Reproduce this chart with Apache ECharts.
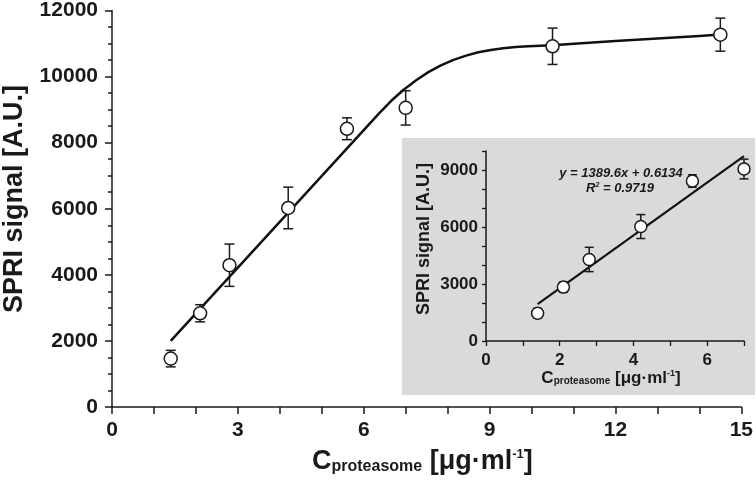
<!DOCTYPE html>
<html><head><meta charset="utf-8">
<script src="https://cdn.jsdelivr.net/npm/echarts@6/dist/echarts.min.js"></script>
<style>html,body{margin:0;padding:0;background:#fff}#c{width:756px;height:482px}</style>
</head><body><div id="c"></div>
<script>
// ---- data ----
const concentration = [1.4, 2.1, 2.8, 4.2, 5.6, 7.0, 10.5, 14.5];
const signal = [1465, 2836, 4291, 6024, 8421, 9053, 10917, 11269];
const signalError = [250, 260, 640, 630, 330, 520, 550, 500];

const fitX = [1.4, 3, 4.5, 6.0, 6.36, 6.65, 6.95, 7.25, 7.54, 7.84, 8.14, 8.44, 8.73, 9.03, 9.32, 9.62, 9.92, 10.5, 11.1, 12, 13, 14, 14.5];
const fitY = [2000, 4220, 6300, 8380, 8880, 9260, 9600, 9890, 10135, 10340, 10506, 10635, 10737, 10805, 10857, 10893, 10917, 10950, 11000, 11075, 11150, 11230, 11270];

const insetConcentration = [1.4, 2.1, 2.8, 4.2, 5.6, 7.0];
const insetSignal = [1465, 2836, 4291, 6024, 8421, 9053];
const insetError = [250, 260, 640, 630, 330, 520];
const linearFitX = [1.4, 7.0];
const linearFitY = [1946, 9728];

const mainXTicks = [0, 3, 6, 9, 12, 15];
const mainYTicks = [0, 2000, 4000, 6000, 8000, 10000, 12000];
const insetXTicks = [0, 2, 4, 6];
const insetYTicks = [0, 3000, 6000, 9000];

const equationText = 'y = 1389.6x + 0.6134';
const r2Value = '0.9719';
// ---------------------------------------

const FONT = '"Liberation Sans", Arial, sans-serif';
const INK = '#1a1a1a';

function errRender(capHalf) {
  return function (params, api) {
    const x = api.value(0), lo = api.value(1), hi = api.value(2);
    const a = api.coord([x, lo]), b = api.coord([x, hi]);
    const st = { stroke: INK, lineWidth: 1.5 };
    return { type: 'group', children: [
      { type: 'line', shape: { x1: a[0], y1: a[1], x2: b[0], y2: b[1] }, style: st },
      { type: 'line', shape: { x1: a[0] - capHalf, y1: a[1], x2: a[0] + capHalf, y2: a[1] }, style: st },
      { type: 'line', shape: { x1: b[0] - capHalf, y1: b[1], x2: b[0] + capHalf, y2: b[1] }, style: st }
    ]};
  };
}

function axisCommon(opts) {
  return Object.assign({
    type: 'value',
    splitLine: { show: false },
    minorSplitLine: { show: false },
    axisLine: { show: true, onZero: false, lineStyle: { color: INK, width: 1.5 } },
  }, opts);
}

const mainErr = concentration.map((x, i) => [x, signal[i] - signalError[i], signal[i] + signalError[i]]);
const insetErr = insetConcentration.map((x, i) => [x, insetSignal[i] - insetError[i], insetSignal[i] + insetError[i]]);

const chart = echarts.init(document.getElementById('c'), null, { renderer: 'canvas' });
chart.setOption({
  animation: false,
  backgroundColor: '#fff',
  grid: [
    { left: 112, top: 8, width: 632, height: 399 },
    { left: 486, top: 151, width: 258, height: 190, z: 5 }
  ],
  xAxis: [
    axisCommon({
      gridIndex: 0, min: mainXTicks[0], max: mainXTicks[mainXTicks.length - 1], interval: mainXTicks[1] - mainXTicks[0],
      axisTick: { show: true, length: 7, lineStyle: { color: INK, width: 1.5 } },
      minorTick: { show: true, splitNumber: 3, length: 7, lineStyle: { color: INK, width: 1.5 } },
      axisLabel: { fontSize: 21, fontWeight: 'bold', color: INK, margin: 13, fontFamily: FONT, formatter: v => String(v) }
    }),
    axisCommon({
      gridIndex: 1, z: 6, min: 0, max: 7, interval: 1,
      axisTick: { show: true, length: 5, lineStyle: { color: INK, width: 1.3 } },
      minorTick: { show: false },
      axisLabel: { fontSize: 17, fontWeight: 'bold', color: INK, margin: 11, fontFamily: FONT,
        formatter: v => insetXTicks.indexOf(v) >= 0 ? String(v) : '' }
    })
  ],
  yAxis: [
    axisCommon({
      gridIndex: 0, min: mainYTicks[0], max: mainYTicks[mainYTicks.length - 1], interval: mainYTicks[1] - mainYTicks[0],
      axisTick: { show: true, length: 7, lineStyle: { color: INK, width: 1.5 } },
      minorTick: { show: true, splitNumber: 4, length: 4, lineStyle: { color: INK, width: 1.5 } },
      axisLabel: { fontSize: 21, fontWeight: 'bold', color: INK, margin: 14, fontFamily: FONT, formatter: v => String(v) }
    }),
    axisCommon({
      gridIndex: 1, z: 6, min: 0, max: 10000, interval: 1000,
      axisTick: { show: true, length: 4, lineStyle: { color: INK, width: 1.3 } },
      minorTick: { show: false },
      axisLabel: { fontSize: 17, fontWeight: 'bold', color: INK, margin: 8, fontFamily: FONT,
        formatter: v => insetYTicks.indexOf(v) >= 0 ? String(v) : '' }
    })
  ],
  series: [
    { type: 'line', xAxisIndex: 0, yAxisIndex: 0, data: fitX.map((x, i) => [x, fitY[i]]),
      showSymbol: false, smooth: false, lineStyle: { color: '#111', width: 2.5, join: 'round' }, z: 2 },
    { type: 'custom', xAxisIndex: 0, yAxisIndex: 0, data: mainErr, renderItem: errRender(5), z: 3 },
    { type: 'scatter', xAxisIndex: 0, yAxisIndex: 0, data: concentration.map((x, i) => [x, signal[i]]),
      symbol: 'circle', symbolSize: 13, itemStyle: { color: '#fff', borderColor: INK, borderWidth: 1.5, opacity: 1 }, z: 4 },

    { type: 'line', xAxisIndex: 1, yAxisIndex: 1, data: linearFitX.map((x, i) => [x, linearFitY[i]]),
      showSymbol: false, lineStyle: { color: '#111', width: 2.2 }, z: 7 },
    { type: 'custom', xAxisIndex: 1, yAxisIndex: 1, data: insetErr, renderItem: errRender(4.5), z: 8 },
    { type: 'scatter', xAxisIndex: 1, yAxisIndex: 1, data: insetConcentration.map((x, i) => [x, insetSignal[i]]),
      symbol: 'circle', symbolSize: 12, itemStyle: { color: '#fff', borderColor: INK, borderWidth: 1.5, opacity: 1 }, z: 9 }
  ],
  graphic: [
    { type: 'rect', z: 1, shape: { x: 402, y: 138, width: 353, height: 257 }, style: { fill: '#dadada' } },
    // main y label
    { type: 'text', z: 10, x: 15, y: 199, rotation: Math.PI / 2,
      style: { text: 'SPRI signal [A.U.]', font: 'bold 27px ' + FONT, fill: INK, textAlign: 'center', textVerticalAlign: 'middle' } },
    // main x label
    { type: 'text', z: 10, x: 312, y: 448,
      style: { text: '{c|C}{s|proteasome}{c| [μg·ml}{p|-1}{c|]}', textAlign: 'left', textVerticalAlign: 'top', fill: INK,
        rich: {
          c: { font: 'bold 27px ' + FONT, lineHeight: 27, verticalAlign: 'bottom', fill: INK },
          s: { font: 'bold 16px ' + FONT, lineHeight: 7, verticalAlign: 'bottom', fill: INK },
          p: { font: 'bold 13px ' + FONT, lineHeight: 13, verticalAlign: 'top', fill: INK }
        } } },
    // inset y label
    { type: 'text', z: 10, x: 424, y: 239, rotation: Math.PI / 2,
      style: { text: 'SPRI signal [A.U.]', font: 'bold 18px ' + FONT, fill: INK, textAlign: 'center', textVerticalAlign: 'middle' } },
    // inset x label
    { type: 'text', z: 10, x: 611, y: 378,
      style: { text: '{c|C}{s|proteasome}{c| [μg·ml}{p|-1}{c|]}', textAlign: 'center', textVerticalAlign: 'middle', fill: INK,
        rich: {
          c: { font: 'bold 17px ' + FONT, lineHeight: 17, verticalAlign: 'bottom', fill: INK },
          s: { font: 'bold 10px ' + FONT, lineHeight: 5, verticalAlign: 'bottom', fill: INK },
          p: { font: 'bold 9px ' + FONT, lineHeight: 9, verticalAlign: 'top', fill: INK }
        } } },
    // equation
    { type: 'text', z: 10, x: 621, y: 173,
      style: { text: equationText, font: 'italic bold 13px ' + FONT, fill: INK, textAlign: 'center', textVerticalAlign: 'middle' } },
    { type: 'text', z: 10, x: 620, y: 188,
      style: { text: '{r|R}{p|2}{r| = ' + r2Value + '}', textAlign: 'center', textVerticalAlign: 'middle', fill: INK,
        rich: {
          r: { font: 'italic bold 13px ' + FONT, lineHeight: 13, fill: INK },
          p: { font: 'italic bold 7px ' + FONT, lineHeight: 9, verticalAlign: 'top', fill: INK }
        } } }
  ]
});
</script>
</body></html>
